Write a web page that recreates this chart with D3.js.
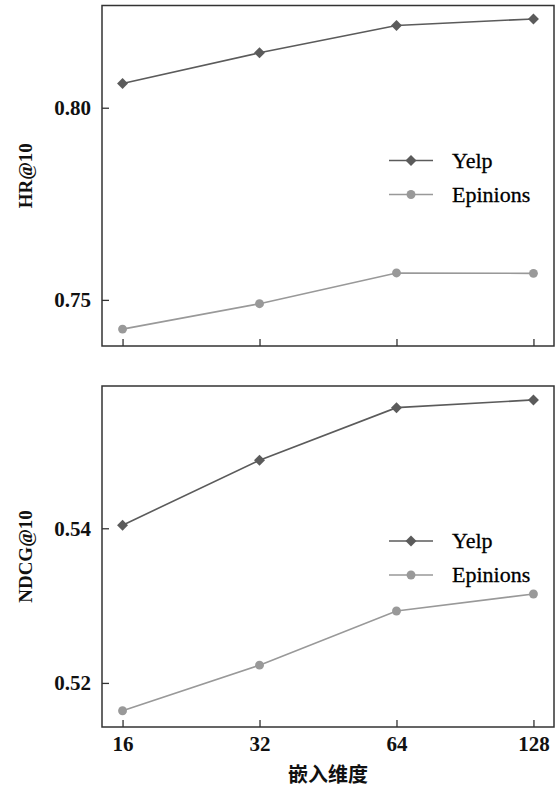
<!DOCTYPE html>
<html>
<head>
<meta charset="utf-8">
<script src="https://cdn.jsdelivr.net/npm/d3@7"></script>
<style>
  body { margin: 0; background: #fff; }
</style>
</head>
<body>
<div id="chart"></div>
<script>
// data
const dims = [16, 32, 64, 128]
const seriesNames = ["Yelp", "Epinions"]
const hrYelp = [0.8063, 0.8143, 0.8214, 0.8231]
const hrEpinions = [0.7424, 0.7490, 0.7570, 0.7569]
const ndcgYelp = [0.5404, 0.5488, 0.5556, 0.5566]
const ndcgEpinions = [0.5164, 0.5223, 0.5293, 0.5315]
const hrTicks = [0.75, 0.80]
const ndcgTicks = [0.52, 0.54]

const colors = { Yelp: "#5b5b5b", Epinions: "#999999" }
const serif = "'Liberation Serif', 'DejaVu Serif', 'Times New Roman', serif"

const svg = d3.select("#chart").append("svg")
    .attr("width", 556)
    .attr("height", 788)

const margin = { left: 102, right: 2 }
const width = 556 - margin.left - margin.right

function Panel(top, height, yDomain, ticks, label, yelp, epinions, showX, legendY) {
    let g = svg.append("g")
        .attr("transform", `translate(${margin.left},${top})`)

    let xScale = d3.scalePoint()
        .domain(dims)
        .range([0, width])
        .padding(0.15)

    let yScale = d3.scaleLinear()
        .domain(yDomain)
        .range([height, 0])

    let xAxis = d3.axisBottom(xScale)
        .tickSizeInner(-7)
        .tickSizeOuter(0)
        .tickPadding(9)
        .tickFormat(d => showX ? d : "")

    let yAxis = d3.axisLeft(yScale)
        .tickValues(ticks)
        .tickSizeInner(-7)
        .tickSizeOuter(0)
        .tickPadding(11)
        .tickFormat(d3.format(".2f"))

    g.append("rect")
        .attr("width", width)
        .attr("height", height)
        .attr("fill", "none")
        .attr("stroke", "#333")
        .attr("stroke-width", 1.5)

    let gx = g.append("g")
        .attr("transform", `translate(0,${height})`)
        .call(xAxis)
    let gy = g.append("g").call(yAxis)

    for (let a of [gx, gy]) {
        a.attr("font-family", null)
        a.select(".domain").remove()
        a.selectAll("line").attr("stroke", "#333").attr("stroke-width", 1.3)
        a.selectAll("text")
            .attr("fill", "#111")
            .style("font-family", serif)
            .style("font-size", "21px")
            .style("font-weight", "bold")
    }

    g.append("text")
        .attr("transform", `translate(-70,${height / 2}) rotate(-90)`)
        .attr("text-anchor", "middle")
        .style("font-family", serif)
        .style("font-size", "19px")
        .style("font-weight", "bold")
        .attr("fill", "#111")
        .text(label)

    let line = d3.line()
        .x((d, i) => xScale(dims[i]))
        .y(d => yScale(d))

    let data = { Yelp: yelp, Epinions: epinions }
    seriesNames.forEach(name => {
        g.append("path")
            .datum(data[name])
            .attr("fill", "none")
            .attr("stroke", colors[name])
            .attr("stroke-width", 1.6)
            .attr("d", line)
        drawMarkers(g, name, data[name].map((d, i) => [xScale(dims[i]), yScale(d)]))
    })

    // legend
    seriesNames.forEach((name, i) => {
        let ly = legendY + i * 34
        g.append("line")
            .attr("x1", 287).attr("x2", 331)
            .attr("y1", ly).attr("y2", ly)
            .attr("stroke", colors[name])
            .attr("stroke-width", 1.6)
        drawMarkers(g, name, [[309, ly]])
        g.append("text")
            .attr("x", 350)
            .attr("y", ly + 7)
            .style("font-family", serif)
            .style("font-size", "22px")
            .attr("fill", "#000")
            .attr("stroke", "#000")
            .attr("stroke-width", 0.3)
            .text(name)
    })
}

function drawMarkers(g, name, pts) {
    let isYelp = name == "Yelp"
    g.selectAll(null)
        .data(pts)
        .enter()
        .append("path")
        .attr("transform", d => `translate(${d[0]},${d[1]})` + (isYelp ? " rotate(45)" : ""))
        .attr("d", d3.symbol().type(isYelp ? d3.symbolSquare : d3.symbolCircle).size(isYelp ? 60 : 62))
        .attr("fill", colors[name])
}

Panel(5.5, 340.5, [0.7380, 0.8266], hrTicks, "HR@10", hrYelp, hrEpinions, false, 155)
Panel(386, 341, [0.5143, 0.5584], ndcgTicks, "NDCG@10", ndcgYelp, ndcgEpinions, true, 155)

svg.append("text")
    .attr("x", margin.left + width / 2)
    .attr("y", 782)
    .attr("text-anchor", "middle")
    .style("font-size", "20px")
    .style("font-weight", "bold")
    .style("font-family", "'Noto Sans CJK SC', serif")
    .attr("fill", "#111")
    .text("嵌入维度")
</script>
</body>
</html>
